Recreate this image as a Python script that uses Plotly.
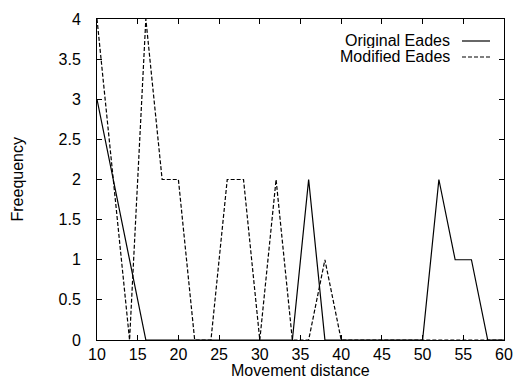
import plotly.graph_objects as go

distance = [10, 12, 14, 16, 18, 20, 22, 24, 26, 28, 30, 32, 34, 36, 38, 40,
            42, 44, 46, 48, 50, 52, 54, 56, 58, 60]
original_eades = [3, 2, 1, 0, 0, 0, 0, 0, 0, 0, 0, 0, 0, 2, 0, 0,
                  0, 0, 0, 0, 0, 2, 1, 1, 0, 0]
modified_eades = [4, 2, 0, 4, 2, 2, 0, 0, 2, 2, 0, 2, 0, 0, 1, 0,
                  0, 0, 0, 0, 0, 0, 0, 0, 0, 0]
x_ticks = [10, 15, 20, 25, 30, 35, 40, 45, 50, 55, 60]
y_ticks = [0, 0.5, 1, 1.5, 2, 2.5, 3, 3.5, 4]
y_tick_labels = ["0", "0.5", "1", "1.5", "2", "2.5", "3", "3.5", "4"]
series_names = ["Original Eades", "Modified Eades"]
x_title = "Movement distance"
y_title = "Freequency"

FONT = "Liberation Sans, Arial, sans-serif"
DASH = "4px,2px"
W, H = 513, 378
L, R, T, B = 97, 9, 19, 38
PW, PH = W - L - R, H - T - B


def px_x(px):
    return (px - L) / PW


def px_y(py):
    return (H - B - py) / PH


fig = go.Figure()
fig.add_trace(go.Scatter(x=distance, y=original_eades, mode="lines",
                         name=series_names[0],
                         line=dict(color="black", width=1.2)))
fig.add_trace(go.Scatter(x=distance, y=modified_eades, mode="lines",
                         name=series_names[1],
                         line=dict(color="black", width=1.2, dash=DASH)))

axis_common = dict(showline=True, linecolor="black", linewidth=1,
                   mirror="ticks", ticks="inside", ticklen=5,
                   tickcolor="black", tickwidth=1, showgrid=False,
                   zeroline=False, automargin=False,
                   tickfont=dict(family=FONT, size=16, color="black"))

fig.update_xaxes(range=[10, 60], tickvals=x_ticks, **axis_common)
fig.update_yaxes(range=[0, 4], tickvals=y_ticks, ticktext=y_tick_labels,
                 ticklabelstandoff=12, **axis_common)

# axis titles
fig.add_annotation(xref="paper", yref="paper", x=px_x(300.5), y=px_y(370),
                   xanchor="center", yanchor="middle", text=x_title,
                   showarrow=False, font=dict(family=FONT, size=16, color="black"))
fig.add_annotation(xref="paper", yref="paper", x=px_x(17), y=px_y(179.5),
                   xanchor="center", yanchor="middle", text=y_title, textangle=-90,
                   showarrow=False, font=dict(family=FONT, size=16, color="black"))

# gnuplot-style legend: text right aligned, line sample to the right
legend_rows = [(series_names[0], "solid", 40), (series_names[1], DASH, 56)]
for name, dash, py in legend_rows:
    fig.add_annotation(xref="paper", yref="paper", x=px_x(452), y=px_y(py),
                       xanchor="right", yanchor="middle", text=name,
                       height=16, showarrow=False,
                       font=dict(family=FONT, size=16, color="black"))
    fig.add_shape(type="line", xref="paper", yref="paper",
                  x0=px_x(462), x1=px_x(490), y0=px_y(py + 1), y1=px_y(py + 1),
                  line=dict(color="black", width=1.2, dash=dash))

fig.update_layout(width=W, height=H, showlegend=False,
                  margin=dict(l=L, r=R, t=T, b=B),
                  paper_bgcolor="white", plot_bgcolor="white",
                  font=dict(family=FONT, size=16, color="black"))

fig.write_html("out.html",
               config={"displayModeBar": False, "staticPlot": True},
               post_script="document.body.style.margin='0';"
                           "document.body.style.overflow='hidden';")
